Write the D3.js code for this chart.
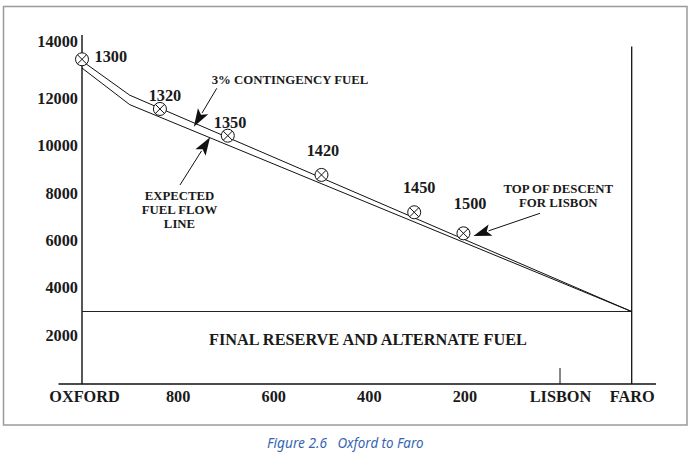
<!DOCTYPE html>
<html>
<head>
<meta charset="utf-8">
<script src="https://cdn.jsdelivr.net/npm/d3@7"></script>
<style>
  html, body { margin: 0; padding: 0; background: #fff; }
  svg { display: block; }
  .serif { font-family: "Liberation Serif", "Times New Roman", serif; font-weight: bold; fill: #1a1a1a; }
</style>
</head>
<body>
<svg id="chart" width="690" height="454"></svg>
<script>
// ---------- data ----------
const distTicks   = [1000, 800, 600, 400, 200, 0, -150];
const distLabels  = ["OXFORD", "800", "600", "400", "200", "LISBON", "FARO"];
const fuelTicks   = [2000, 4000, 6000, 8000, 10000, 12000, 14000];

const contingencyDist = [1000, 900, -150];
const contingencyFuel = [13600, 12150, 3000];
const expectedDist    = [1000, 900, -150];
const expectedFuel    = [13300, 11750, 3000];

const checkTimes = ["1300", "1320", "1350", "1420", "1450", "1500"];
const checkDist  = [1000, 837, 695, 499, 305, 202];
const checkFuel  = [13670, 11570, 10440, 8780, 7200, 6310];

const reserveFuel  = 3000;
const reserveLabel = "FINAL RESERVE AND ALTERNATE FUEL";
const lisbonDist = 0, faroDist = -150, oxfordDist = 1000;

// ---------- layout ----------
const W = 690, H = 454;
const svg = d3.select("#chart");
const x = d3.scaleLinear().domain([1000, 0]).range([82, 560]);
const y = d3.scaleLinear().domain([0, 14000]).range([382.5, 51.5]);
const axisY = 384;

// label offsets for check-point times [dx, dy(center), anchor]
const timeLabelOffsets = [[12.5, -2.6, "start"], [5, -13.3, "middle"], [2.3, -13.4, "middle"],
                          [1.5, -24, "middle"], [5, -24.6, "middle"], [6.7, -30, "middle"]];

// frame
svg.append("rect").attr("x", 3.5).attr("y", 6.5).attr("width", 683.5).attr("height", 418.5)
  .attr("fill", "none").attr("stroke", "#9a9a9a").attr("stroke-width", 1.5);

// caption
const cap = svg.append("text").attr("y", 448)
  .style("font-family", "'Noto Sans', 'Open Sans', sans-serif").style("font-style", "italic")
  .style("font-size", "14px").attr("fill", "#3565b0");
cap.append("tspan").attr("x", 267).attr("textLength", 60).attr("lengthAdjust", "spacingAndGlyphs").text("Figure 2.6");
cap.append("tspan").attr("x", 337.5).attr("textLength", 86).attr("lengthAdjust", "spacingAndGlyphs").text("Oxford to Faro");

// axes lines
svg.append("line").attr("x1", x(oxfordDist)).attr("x2", x(oxfordDist)).attr("y1", 35).attr("y2", axisY)
  .attr("stroke", "#111").attr("stroke-width", 1.4);
svg.append("line").attr("x1", 58.5).attr("x2", 656).attr("y1", axisY).attr("y2", axisY)
  .attr("stroke", "#111").attr("stroke-width", 1.4);
svg.append("line").attr("x1", x(faroDist)).attr("x2", x(faroDist)).attr("y1", 46.5).attr("y2", axisY)
  .attr("stroke", "#111").attr("stroke-width", 1.3);
svg.append("line").attr("x1", x(lisbonDist)).attr("x2", x(lisbonDist)).attr("y1", axisY - 16).attr("y2", axisY)
  .attr("stroke", "#111").attr("stroke-width", 1);

// y axis ticks (labels only)
const gy = svg.append("g").attr("transform", `translate(${x(oxfordDist)},0)`)
  .call(d3.axisLeft(y).tickValues(fuelTicks).tickSize(0).tickPadding(4).tickFormat(d3.format("d")));
gy.select(".domain").remove();
gy.selectAll("text").attr("class", "serif").style("font-size", "16.3px").attr("font-family", null)
  .attr("dy", "0.3em");
gy.selectAll(".tick").filter(d => d === 14000).select("text").attr("y", -9.5);

// x axis ticks (labels only)
const gx = svg.append("g").attr("transform", `translate(0,${axisY})`)
  .call(d3.axisBottom(x).tickValues(distTicks).tickSize(0).tickPadding(6)
    .tickFormat((d, i) => distLabels[i]));
gx.select(".domain").remove();
gx.selectAll("text").attr("class", "serif").style("font-size", "16.3px").attr("font-family", null);
gx.selectAll(".tick").filter(d => d === oxfordDist).select("text").attr("x", 2);

// reserve line + label
svg.append("line").attr("x1", x(oxfordDist)).attr("x2", x(faroDist))
  .attr("y1", y(reserveFuel)).attr("y2", y(reserveFuel)).attr("stroke", "#222").attr("stroke-width", 1.1);
svg.append("text").attr("class", "serif").attr("x", 368).attr("y", y(reserveFuel) + 33.5)
  .attr("text-anchor", "middle").style("font-size", "16.3px").text(reserveLabel);

// fuel lines
const line = d3.line().x(d => x(d[0])).y(d => y(d[1]));
svg.append("path").datum(contingencyDist.map((d, i) => [d, contingencyFuel[i]]))
  .attr("d", line).attr("fill", "none").attr("stroke", "#111").attr("stroke-width", 1);
svg.append("path").datum(expectedDist.map((d, i) => [d, expectedFuel[i]]))
  .attr("d", line).attr("fill", "none").attr("stroke", "#111").attr("stroke-width", 1);

// check points
const r = 6.5, k = r * Math.SQRT1_2;
const pts = svg.append("g").selectAll("g").data(checkTimes).join("g")
  .attr("transform", (d, i) => `translate(${x(checkDist[i])},${y(checkFuel[i])})`);
pts.append("circle").attr("r", r).attr("fill", "#fff").attr("stroke", "#111").attr("stroke-width", 1);
pts.append("path").attr("d", `M${-k},${-k}L${k},${k}M${-k},${k}L${k},${-k}`)
  .attr("stroke", "#111").attr("stroke-width", 1);
pts.append("text").attr("class", "serif").style("font-size", "16.3px")
  .attr("x", (d, i) => timeLabelOffsets[i][0]).attr("y", (d, i) => timeLabelOffsets[i][1])
  .attr("dy", "0.33em").attr("text-anchor", (d, i) => timeLabelOffsets[i][2]).text(d => d);

// annotations (in data coordinates)
const annotations = [
  { lines: ["3% CONTINGENCY FUEL"], tx: 211.7, ty: 83.5, anchor: "start",
    from: [718, 12444], to: [766, 10819] },
  { lines: ["EXPECTED", "FUEL FLOW", "LINE"], tx: 179.5, ty: 199.5, anchor: "middle",
    from: [795, 8354], to: [732, 10371] },
  { lines: ["TOP OF DESCENT", "FOR LISBON"], tx: 558.3, ty: 192.8, anchor: "middle",
    from: [42, 7156], to: [181, 6196] }
];
annotations.forEach(a => {
  const t = svg.append("text").attr("class", "serif").style("font-size", "12.8px")
    .attr("text-anchor", a.anchor);
  a.lines.forEach((s, i) => t.append("tspan").attr("x", a.tx).attr("y", a.ty + i * 14.2).text(s));
  const x1 = x(a.from[0]), y1 = y(a.from[1]), x2 = x(a.to[0]), y2 = y(a.to[1]);
  const dx = x2 - x1, dy = y2 - y1, L = Math.hypot(dx, dy), ux = dx / L, uy = dy / L;
  const hl = 18, hw = 6;
  const bx = x2 - ux * hl, by = y2 - uy * hl;
  svg.append("line").attr("x1", x1).attr("y1", y1).attr("x2", bx + ux * 2).attr("y2", by + uy * 2)
    .attr("stroke", "#111").attr("stroke-width", 1);
  svg.append("path")
    .attr("d", `M${x2},${y2}L${bx - uy * hw},${by + ux * hw}L${bx + ux * 4},${by + uy * 4}L${bx + uy * hw},${by - ux * hw}Z`)
    .attr("fill", "#111");
});
</script>
</body>
</html>
